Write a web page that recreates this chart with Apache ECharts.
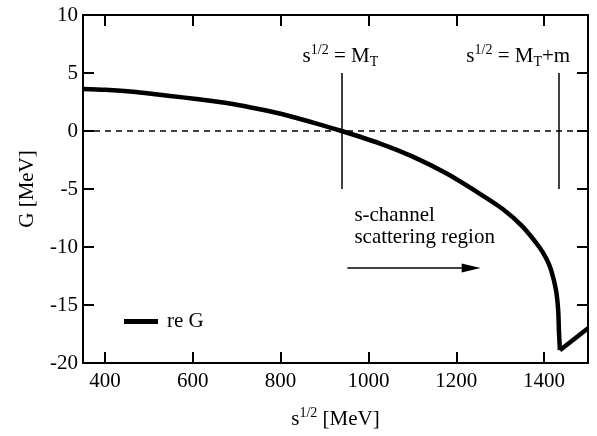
<!DOCTYPE html>
<html>
<head>
<meta charset="utf-8">
<script src="https://cdn.jsdelivr.net/npm/echarts@6/dist/echarts.min.js"></script>
<style>html,body{margin:0;padding:0;background:#fff}#c{width:597px;height:436px}</style>
</head>
<body>
<div id="c"></div>
<script>
// Data
const sValues = [350, 400, 464, 520, 577, 640, 691, 750, 805, 880, 939, 1025, 1101, 1177, 1252, 1305, 1350, 1389, 1405, 1416, 1427, 1432, 1434, 1436, 1500];
const reG = [3.62, 3.55, 3.39, 3.15, 2.9, 2.6, 2.33, 1.9, 1.44, 0.66, 0, -1.06, -2.21, -3.65, -5.37, -6.7, -8.2, -10.0, -11.0, -12.0, -13.7, -15.4, -17.4, -18.9, -17.0];
const xTicks = [400, 600, 800, 1000, 1200, 1400];
const xRange = [350, 1500];
const yRange = [-20, 10];
const yStep = 5;
const MT = 939;
const MTm = 1434;
const thresholdSpan = [5, -5];
const arrowFrom = [952, -11.8];
const arrowTo = [1234, -11.8];
const labelMT = [850, 6.4];
const labelMTm = [1223, 6.4];
const labelRegion = [968, -8.2];

const FF = 'Liberation Serif';
const rich = {
  b: {fontFamily: FF, fontSize: 21, color: '#000', lineHeight: 26},
  sup: {fontFamily: FF, fontSize: 14, color: '#000', lineHeight: 14, verticalAlign: 'top'},
  sub: {fontFamily: FF, fontSize: 14, color: '#000', lineHeight: 14, verticalAlign: 'bottom'}
};

const axisLineStyle = {color: '#000', width: 2};
const tickStyle = {color: '#000', width: 2};
const plainNum = v => String(v);

// split at the cusp so the smooth branch keeps a sharp corner at threshold
const cuspIdx = reG.indexOf(Math.min.apply(null, reG));
const allPts = sValues.map((s, i) => [s, reG[i]]);
const branchBelow = allPts.slice(0, cuspIdx + 1);
const branchAbove = allPts.slice(cuspIdx);

const chart = echarts.init(document.getElementById('c'), null, {renderer: 'canvas'});
chart.setOption({
  animation: false,
  backgroundColor: '#fff',
  grid: {left: 83, right: 9, top: 15, bottom: 73, containLabel: false},
  legend: {
    left: 124, top: 311, padding: 0,
    itemWidth: 34, itemHeight: 5, itemGap: 0,
    icon: 'rect',
    textStyle: {fontFamily: FF, fontSize: 21, color: '#000', padding: [0, 0, 0, 4]},
    data: ['re G']
  },
  xAxis: [{
    type: 'value', min: xRange[0], max: xRange[1],
    name: '{b|s}{sup|1/2}{b| [MeV]}', nameLocation: 'middle', nameGap: 43,
    nameTextStyle: {rich: rich},
    axisLine: {show: true, onZero: false, lineStyle: axisLineStyle},
    axisTick: {show: true, inside: true, length: 11, lineStyle: tickStyle, customValues: xTicks},
    axisLabel: {show: true, fontFamily: FF, fontSize: 21, color: '#000', margin: 8, customValues: xTicks, formatter: plainNum},
    splitLine: {show: false}
  }, {
    type: 'value', min: xRange[0], max: xRange[1], position: 'top',
    axisLine: {show: true, onZero: false, lineStyle: axisLineStyle},
    axisTick: {show: true, inside: true, length: 11, lineStyle: tickStyle, customValues: xTicks},
    axisLabel: {show: false},
    splitLine: {show: false}
  }],
  yAxis: [{
    type: 'value', min: yRange[0], max: yRange[1], interval: yStep,
    name: 'G [MeV]', nameLocation: 'middle', nameGap: 45,
    nameTextStyle: {fontFamily: FF, fontSize: 21, color: '#000'},
    axisLine: {show: true, onZero: false, lineStyle: axisLineStyle},
    axisTick: {show: true, inside: true, length: 11, lineStyle: tickStyle},
    axisLabel: {show: true, fontFamily: FF, fontSize: 21, color: '#000', margin: 5, formatter: plainNum},
    splitLine: {show: false}
  }, {
    type: 'value', min: yRange[0], max: yRange[1], interval: yStep, position: 'right',
    axisLine: {show: true, onZero: false, lineStyle: axisLineStyle},
    axisTick: {show: true, inside: true, length: 11, lineStyle: tickStyle},
    axisLabel: {show: false},
    splitLine: {show: false}
  }],
  series: [{
    name: 're G',
    type: 'line',
    data: branchBelow,
    showSymbol: false,
    symbol: 'none',
    smooth: 0.25,
    lineStyle: {color: '#000', width: 4.5, join: 'miter'},
    itemStyle: {color: '#000'},
    z: 5,
    markLine: {
      silent: true,
      symbol: ['none', 'none'],
      label: {show: false},
      emphasis: {disabled: true},
      data: [
        {yAxis: 0, lineStyle: {type: [6, 5], width: 1.5, color: '#000'}},
        [{coord: [MT, thresholdSpan[0]], lineStyle: {type: 'solid', width: 1.5, color: '#000'}}, {coord: [MT, thresholdSpan[1]]}],
        [{coord: [MTm, thresholdSpan[0]], lineStyle: {type: 'solid', width: 1.5, color: '#000'}}, {coord: [MTm, thresholdSpan[1]]}],
        [{coord: arrowFrom, lineStyle: {type: 'solid', width: 1.5, color: '#000'}}, {coord: arrowTo, symbol: 'triangle', symbolSize: [9, 19]}]
      ]
    },
    markPoint: {
      silent: true,
      symbol: 'circle', symbolSize: 0,
      label: {show: true, position: 'right', distance: 0, rich: rich, color: '#000'},
      data: [
        {coord: labelMT, label: {formatter: '{b|s}{sup|1/2}{b| = M}{sub|T}'}},
        {coord: labelMTm, label: {formatter: '{b|s}{sup|1/2}{b| = M}{sub|T}{b|+m}'}},
        {coord: labelRegion, label: {formatter: '{c|s-channel}\n{c|scattering region}', rich: {c: {fontFamily: FF, fontSize: 21, color: '#000', lineHeight: 22}}}}
      ]
    }
  }, {
    name: 're G',
    type: 'line',
    data: branchAbove,
    showSymbol: false,
    symbol: 'none',
    lineStyle: {color: '#000', width: 4.5},
    itemStyle: {color: '#000'},
    z: 5
  }]
});
</script>
</body>
</html>
